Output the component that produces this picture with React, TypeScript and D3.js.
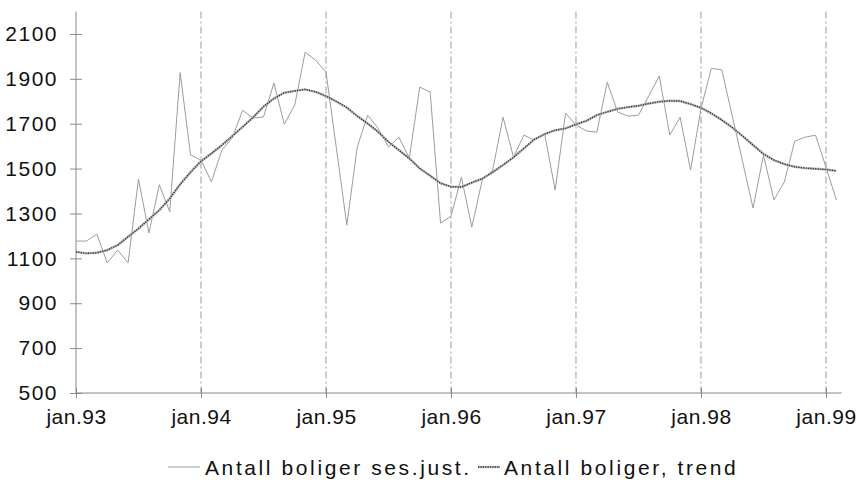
import * as d3 from 'd3';
import React, { useEffect, useRef } from 'react';

// monthly, jan.93 .. feb.99
const seasAdj = [
  1177, 1177, 1208, 1080, 1137, 1080, 1453, 1213, 1428, 1308, 1928, 1560,
  1538, 1441, 1582, 1636, 1760, 1725, 1730, 1881, 1698, 1783, 2019, 1983,
  1931, 1590, 1248, 1596, 1738, 1680, 1596, 1640, 1547, 1863, 1841, 1257,
  1288, 1462, 1239, 1449, 1493, 1729, 1551, 1649, 1627, 1653, 1404, 1747,
  1694, 1668, 1662, 1885, 1752, 1734, 1738, 1825, 1912, 1649, 1729, 1493,
  1768, 1947, 1940, 1735, 1530, 1324, 1560, 1360, 1440, 1622, 1640, 1649,
  1507, 1360,
];
const trend = [
  1129, 1122, 1125, 1137, 1159, 1196, 1233, 1274, 1315, 1367, 1430, 1484,
  1533, 1567, 1604, 1645, 1686, 1728, 1776, 1812, 1838, 1846, 1853, 1842,
  1823, 1799, 1772, 1734, 1701, 1664, 1619, 1582, 1545, 1501, 1468, 1435,
  1419, 1418, 1437, 1455, 1484, 1516, 1550, 1590, 1630, 1654, 1671, 1679,
  1697, 1713, 1738, 1753, 1766, 1774, 1780, 1790, 1798, 1802, 1801, 1787,
  1771, 1746, 1716, 1683, 1645, 1605, 1565, 1538, 1520, 1508, 1502, 1499,
  1496, 1490,
];
const yearLabels = ['jan.93', 'jan.94', 'jan.95', 'jan.96', 'jan.97', 'jan.98', 'jan.99'];
const yTicks = [500, 700, 900, 1100, 1300, 1500, 1700, 1900, 2100];
const seriesNames = ['Antall boliger ses.just.', 'Antall boliger, trend'];

const FONT = '"Liberation Sans", Arial, sans-serif';

const App = () => {
  const ref = useRef<SVGSVGElement>(null);

  useEffect(() => {
    const svg = d3.select(ref.current);
    svg.selectAll('*').remove();

    const x = d3.scaleLinear().domain([0, 73.5]).range([76, 841.6]);
    const y = d3.scaleLinear().domain([500, 2200]).range([393, 11.5]);

    // vertical dashed lines at each january
    svg.append('g')
      .selectAll('line')
      .data(yearLabels.slice(1))
      .enter().append('line')
      .attr('x1', (d, i) => x((i + 1) * 12))
      .attr('x2', (d, i) => x((i + 1) * 12))
      .attr('y1', y(2200))
      .attr('y2', y(500))
      .attr('stroke', '#9a9a9a')
      .attr('stroke-width', 1)
      .attr('stroke-dasharray', '7 3 2 3');

    // y axis
    const yAxis = svg.append('g').attr('transform', `translate(${x(0)},0)`)
      .call(d3.axisLeft(y).tickValues(yTicks).tickSize(6).tickPadding(12).tickFormat(d3.format('d')));
    yAxis.select('.domain').attr('stroke', '#888').attr('d', `M0,${y(2200)}V${y(500)}`);
    yAxis.selectAll('.tick line').attr('stroke', '#888').attr('x1', 6);
    yAxis.selectAll('.tick text')
      .attr('font-family', FONT).attr('font-size', 21).attr('fill', '#111')
      .attr('letter-spacing', 1.5);

    // x axis
    const xAxis = svg.append('g').attr('transform', `translate(0,${y(500)})`)
      .call(d3.axisBottom(x).tickValues(yearLabels.map((d, i) => i * 12))
        .tickSize(5).tickPadding(11).tickFormat((d, i) => yearLabels[i]));
    xAxis.select('.domain').attr('stroke', '#888').attr('d', `M${x(0)},0H${x(73.5)}`);
    xAxis.selectAll('.tick line').attr('stroke', '#888').attr('y1', -5);
    xAxis.selectAll('.tick text')
      .attr('font-family', FONT).attr('font-size', 21).attr('fill', '#111')
      .attr('letter-spacing', 0.5);

    const line = d3.line<number>().x((d, i) => x(i)).y(d => y(d));

    svg.append('path').datum(seasAdj)
      .attr('d', line)
      .attr('fill', 'none').attr('stroke', '#9c9c9c').attr('stroke-width', 1);

    svg.append('path').datum(trend)
      .attr('d', line)
      .attr('fill', 'none').attr('stroke', '#b8b8b8').attr('stroke-width', 2.4);
    svg.append('path').datum(trend)
      .attr('d', line)
      .attr('fill', 'none').attr('stroke', '#333').attr('stroke-width', 1.4)
      .attr('stroke-dasharray', '1.2 1.2');

    // legend
    const lg = svg.append('g');
    lg.append('line').attr('x1', 168).attr('x2', 200).attr('y1', 467).attr('y2', 467)
      .attr('stroke', '#9c9c9c').attr('stroke-width', 1);
    lg.append('text').attr('x', 205).attr('y', 475).text(seriesNames[0])
      .attr('font-family', FONT).attr('font-size', 21).attr('fill', '#111').attr('letter-spacing', 2.6);
    lg.append('line').attr('x1', 478).attr('x2', 500).attr('y1', 467).attr('y2', 467)
      .attr('stroke', '#b8b8b8').attr('stroke-width', 2.4);
    lg.append('line').attr('x1', 478).attr('x2', 500).attr('y1', 467).attr('y2', 467)
      .attr('stroke', '#333').attr('stroke-width', 1.4).attr('stroke-dasharray', '1.2 1.2');
    lg.append('text').attr('x', 504).attr('y', 475).text(seriesNames[1])
      .attr('font-family', FONT).attr('font-size', 21).attr('fill', '#111').attr('letter-spacing', 2.6);
  }, []);

  return (
    <svg ref={ref} width={858} height={489}
      style={{ position: 'absolute', left: 0, top: 0, background: '#fff' }} />
  );
};

export default App;
